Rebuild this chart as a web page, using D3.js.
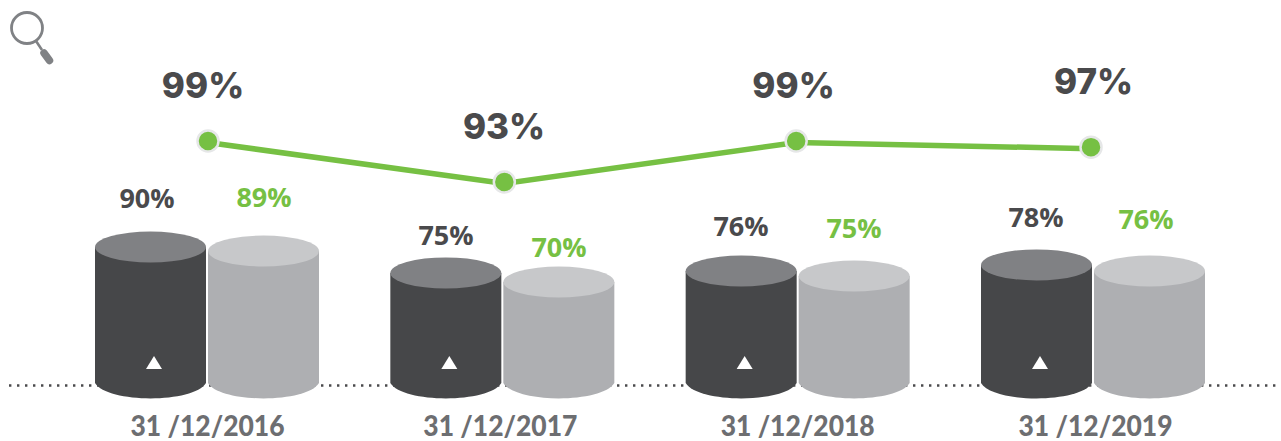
<!DOCTYPE html>
<html>
<head>
<meta charset="utf-8">
<style>html,body{margin:0;padding:0;background:#fff;overflow:hidden}svg{display:block}</style>
<script src="https://cdn.jsdelivr.net/npm/d3@7"></script>
</head>
<body>
<svg id="c" width="1281" height="441"></svg>
<script>
// --- data ---
const dates = ["31 /12/2016", "31 /12/2017", "31 /12/2018", "31 /12/2019"];
const darkLabels = [90, 75, 76, 78];
const lightLabels = [89, 70, 75, 76];
const lineLabels = [99, 93, 99, 97];
// heights as actually drawn in the picture, in the same percent units
const darkDrawn = [90, 73.8, 75, 78.8];
const lightDrawn = [87.5, 68.1, 71.9, 75];
const lineDrawn = [99, 93, 99, 98.1];

// --- layout ---
const W = 1281, H = 441;
const svg = d3.select("#c");
const x = d3.scalePoint().domain(dates).range([207, 1093]);
const yBar = d3.scaleLinear().domain([0, 90]).range([391, 247]);
const yLine = d3.scaleLinear().domain([93, 99]).range([182, 141]);
const baseY = 383, cw = 111, ry = 15.5;
const C = {dark:"#464749", darkTop:"#808184", light:"#aeafb2", lightTop:"#c7c8ca",
           green:"#76c043", halo:"#e6e7e8", label:"#4a4a4c", tick:"#6d6e71"};

// dotted base line
svg.append("line").attr("x1", 9).attr("x2", 1281).attr("y1", 385.5).attr("y2", 385.5)
  .attr("stroke", "#4a4a4c").attr("stroke-width", 2.4).attr("stroke-dasharray", "2.4 5.6");

// cylinders
function cylinder(cx, top, body, lid) {
  const g = svg.append("g");
  const l = cx - cw / 2, r = cx + cw / 2;
  const p = d3.path();
  p.moveTo(l, top); p.lineTo(l, baseY);
  p.bezierCurveTo(l + 12, baseY + 20.5, r - 12, baseY + 20.5, r, baseY);
  p.lineTo(r, top); p.closePath();
  g.append("path").attr("d", p.toString()).attr("fill", body);
  g.append("ellipse").attr("cx", cx).attr("cy", top).attr("rx", cw / 2).attr("ry", ry).attr("fill", lid);
}
dates.forEach((d, i) => {
  cylinder(x(d) - 56.5, yBar(darkDrawn[i]), C.dark, C.darkTop);
  cylinder(x(d) + 56.5, yBar(lightDrawn[i]), C.light, C.lightTop);
});

// small triangles
svg.selectAll("path.tri").data(dates).join("path").attr("class", "tri")
  .attr("d", "M0,-7L8,6L-8,6Z").attr("fill", "#fff")
  .attr("transform", d => `translate(${x(d) - 53},363)`);

// line
const lineDx = [1, 2, -1.5, -2];
const pts = dates.map((d, i) => [x(d) + lineDx[i], yLine(lineDrawn[i])]);
svg.append("path").attr("d", d3.line()(pts)).attr("fill", "none")
  .attr("stroke", C.green).attr("stroke-width", 5.5).attr("transform", "translate(0,1.5)");
svg.selectAll("circle.pt").data(pts).join("circle").attr("class", "pt")
  .attr("cx", d => d[0]).attr("cy", d => d[1]).attr("r", 10.5)
  .attr("fill", C.green).attr("stroke", C.halo).attr("stroke-width", 2.5);

// labels
const bigPos = [[203, 98], [504, 139], [793.5, 98], [1093.5, 94]];
svg.selectAll("text.big").data(lineLabels).join("text").attr("class", "big")
  .attr("x", (d, i) => bigPos[i][0]).attr("y", (d, i) => bigPos[i][1])
  .attr("text-anchor", "middle").attr("font-family", "Inter, 'Open Sans', sans-serif")
  .attr("font-weight", 800).attr("font-size", 35).attr("fill", C.label)
  .text(d => d + "%");

const darkPos = [[147, 208], [446, 245], [741, 236], [1036, 227]];
const lightPos = [[264, 207], [559, 257], [854, 238], [1146, 229]];
function small(cls, vals, pos, fill) {
  svg.selectAll("text." + cls).data(vals).join("text").attr("class", cls)
    .attr("x", (d, i) => pos[i][0]).attr("y", (d, i) => pos[i][1])
    .attr("text-anchor", "middle").attr("font-family", "'Open Sans', 'Noto Sans', sans-serif")
    .attr("font-weight", 700).attr("font-size", 27).attr("fill", fill)
    .text(d => d + "%");
}
small("dk", darkLabels, darkPos, C.label);
small("lt", lightLabels, lightPos, C.green);

// date axis
const tickDx = [0, -2.5, -0.5, 2];
const axis = svg.append("g").attr("transform", "translate(0,416)")
  .call(d3.axisBottom(x).tickSize(0).tickPadding(0));
axis.select(".domain").remove();
axis.selectAll("text").attr("font-family", "Lato, 'Noto Sans', sans-serif")
  .attr("font-weight", 900).attr("font-size", 27.5).attr("fill", C.tick)
  .attr("dy", "0.71em").attr("y", 0).attr("x", (d, i) => tickDx[i])
  .attr("textLength", 154).attr("lengthAdjust", "spacingAndGlyphs");

// magnifier icon
const icon = svg.append("g").attr("fill", "none").attr("stroke", "#808285");
icon.append("circle").attr("cx", 27).attr("cy", 28).attr("r", 15.5).attr("stroke-width", 2.8);
icon.append("line").attr("x1", 36).attr("y1", 41).attr("x2", 42).attr("y2", 50).attr("stroke-width", 2.6);
icon.append("line").attr("x1", 44).attr("y1", 53).attr("x2", 49.5).attr("y2", 60.5)
  .attr("stroke-width", 7.5).attr("stroke-linecap", "round");
</script>
</body>
</html>
